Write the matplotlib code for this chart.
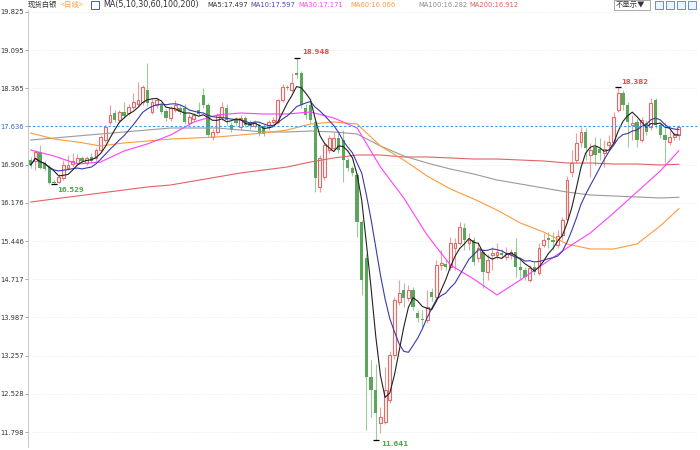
import matplotlib
matplotlib.use('Agg')
import matplotlib.pyplot as plt
from matplotlib.patches import Rectangle
import numpy as np
import pandas as pd

plt.rcParams['font.family'] = ['Noto Sans CJK SC', 'DejaVu Sans']

# daily OHLC
opens = [16.99, 16.97, 17.15, 16.94, 16.86, 16.58, 16.58, 16.65, 16.84, 16.92,
         16.94, 17.03, 16.94, 17.05, 17.03, 17.18, 17.38, 17.72, 17.89, 17.76,
         17.91, 17.89, 18.01, 18.06, 18.10, 18.33, 17.91, 18.04, 18.04, 17.93,
         17.79, 17.95, 17.99, 17.99, 17.70, 17.78, 17.95, 18.23, 18.04, 17.43,
         17.53, 17.81, 17.99, 17.66, 17.76, 17.62, 17.79, 17.72, 17.64, 17.66,
         17.64, 17.62, 17.72, 17.72, 18.14, 18.39, 18.33, 18.66, 18.66, 17.99,
         18.04, 17.72, 16.48, 16.67, 17.18, 17.22, 17.41, 17.38, 16.99, 16.84,
         16.71, 15.81, 15.12, 12.85, 12.60, 11.97, 11.99, 12.41, 13.27, 14.28,
         14.51, 14.36, 14.51, 14.07, 13.96, 13.94, 14.47, 14.38, 14.99, 15.00,
         14.95, 15.32, 15.41, 15.70, 15.41, 15.47, 15.12, 15.24, 14.85, 15.18,
         15.18, 15.22, 15.14, 15.18, 15.24, 14.95, 14.89, 14.70, 14.95, 14.84,
         15.37, 15.50, 15.47, 15.37, 15.56, 15.87, 16.76, 16.99, 17.34, 17.53,
         17.09, 17.24, 17.20, 17.12, 17.28, 17.34, 17.95, 18.27, 18.04, 17.66,
         17.72, 17.38, 17.70, 17.62, 18.14, 17.66, 17.47, 17.33, 17.43, 17.47]
highs = [17.05, 17.19, 17.28, 16.98, 16.90, 16.62, 16.72, 16.99, 17.09, 17.13,
         17.10, 17.08, 17.07, 17.13, 17.22, 17.47, 17.66, 18.04, 17.95, 17.95,
         18.10, 18.06, 18.27, 18.48, 18.43, 18.85, 18.16, 18.18, 18.08, 17.97,
         18.03, 18.14, 18.04, 18.06, 17.87, 17.89, 18.10, 18.37, 18.08, 17.58,
         17.89, 18.10, 18.06, 17.72, 17.81, 17.85, 17.83, 17.76, 17.76, 17.70,
         17.68, 17.76, 17.81, 18.16, 18.45, 18.43, 18.66, 18.948, 18.70, 18.06,
         18.10, 17.76, 17.09, 17.32, 17.47, 17.53, 17.51, 17.57, 17.03, 16.88,
         16.75, 15.85, 15.20, 13.17, 13.10, 12.28, 13.04, 13.35, 14.38, 14.70,
         14.65, 14.60, 14.57, 14.13, 14.13, 14.51, 14.55, 15.08, 15.28, 15.08,
         15.52, 15.50, 15.81, 15.79, 15.60, 15.52, 15.43, 15.30, 15.20, 15.33,
         15.41, 15.30, 15.33, 15.30, 15.50, 15.08, 14.95, 14.99, 15.04, 15.41,
         15.60, 15.62, 15.62, 15.66, 15.91, 16.69, 17.18, 17.51, 17.62, 17.60,
         17.32, 17.43, 17.41, 17.37, 17.47, 17.91, 18.382, 18.33, 18.10, 17.85,
         17.78, 17.81, 17.76, 18.18, 18.18, 17.70, 17.72, 17.57, 17.53, 17.66]
lows = [16.84, 16.80, 16.82, 16.78, 16.54, 16.529, 16.55, 16.61, 16.80, 16.86,
        16.90, 16.94, 16.90, 16.94, 16.98, 17.14, 17.34, 17.66, 17.72, 17.70,
        17.80, 17.85, 17.97, 18.02, 18.04, 18.02, 17.87, 17.98, 17.87, 17.74,
        17.74, 17.91, 17.87, 17.68, 17.66, 17.74, 17.83, 17.99, 17.43, 17.38,
        17.49, 17.76, 17.66, 17.53, 17.66, 17.57, 17.62, 17.58, 17.60, 17.45,
        17.45, 17.57, 17.68, 17.68, 18.10, 18.33, 18.29, 18.56, 17.99, 17.78,
        17.70, 16.38, 16.38, 16.61, 17.12, 17.18, 17.12, 16.57, 16.78, 16.69,
        15.52, 14.42, 11.84, 12.09, 11.641, 11.78, 11.95, 12.35, 13.20, 14.22,
        14.19, 14.30, 14.13, 13.90, 13.80, 13.88, 14.30, 14.30, 14.89, 14.89,
        14.89, 14.89, 15.37, 15.28, 15.28, 14.99, 15.04, 14.55, 14.70, 14.89,
        15.10, 15.12, 15.08, 15.10, 14.76, 14.70, 14.70, 14.66, 14.80, 14.80,
        15.33, 15.31, 15.28, 15.31, 15.47, 15.83, 16.67, 16.94, 17.24, 16.99,
        16.67, 16.90, 16.99, 16.86, 17.22, 17.30, 17.91, 17.95, 17.24, 17.37,
        17.24, 17.33, 17.47, 17.57, 17.60, 17.41, 16.94, 17.28, 17.37, 17.37]
closes = [16.90, 17.15, 16.84, 16.82, 16.56, 16.56, 16.67, 16.90, 16.90, 16.98,
          17.03, 16.98, 17.03, 16.98, 17.18, 17.43, 17.62, 17.85, 17.76, 17.91,
          17.84, 18.00, 18.10, 18.14, 18.39, 18.08, 18.10, 18.14, 17.91, 17.79,
          17.99, 18.04, 17.91, 17.72, 17.81, 17.85, 17.87, 18.04, 17.47, 17.53,
          17.85, 18.01, 17.76, 17.57, 17.70, 17.79, 17.66, 17.64, 17.70, 17.49,
          17.49, 17.72, 17.76, 18.14, 18.39, 18.37, 18.46, 18.62, 18.04, 17.85,
          17.76, 16.65, 17.03, 17.28, 17.41, 17.41, 17.18, 16.99, 16.84, 16.75,
          15.81, 14.70, 12.85, 12.60, 12.16, 12.09, 12.60, 13.27, 14.32, 14.45,
          14.36, 14.51, 14.19, 13.98, 13.94, 14.19, 14.38, 14.99, 15.03, 14.95,
          15.41, 15.41, 15.72, 15.47, 15.47, 15.04, 15.31, 14.85, 15.08, 15.22,
          15.24, 15.18, 15.22, 15.24, 14.95, 14.89, 14.76, 14.93, 14.85, 15.31,
          15.47, 15.47, 15.43, 15.54, 15.85, 16.61, 16.94, 17.32, 17.53, 17.22,
          17.18, 17.09, 17.12, 17.20, 17.34, 17.81, 18.27, 18.04, 17.72, 17.70,
          17.38, 17.76, 17.53, 18.08, 17.66, 17.47, 17.37, 17.43, 17.47, 17.62]

# longer moving averages, every 5 bars
ma_idx = [0, 5, 10, 15, 20, 25, 30, 35, 40, 45, 50, 55, 60, 65, 70,
          75, 80, 85, 90, 95, 100, 105, 110, 115, 120, 125, 130, 135, 139]
ma30 = [17.185, 17.071, 16.918, 16.956, 17.166, 17.300, 17.472, 17.720, 17.854, 17.892,
        17.873, 17.873, 17.911, 17.796, 17.605, 16.861, 16.269, 15.562, 14.989, 14.722,
        14.416, 14.703, 15.008, 15.314, 15.600, 15.982, 16.383, 16.784, 17.171]
ma60 = [17.510, 17.395, 17.338, 17.262, 17.319, 17.357, 17.395, 17.414, 17.434, 17.472,
        17.510, 17.567, 17.682, 17.720, 17.682, 17.262, 16.994, 16.689, 16.441, 16.250,
        16.039, 15.791, 15.619, 15.390, 15.295, 15.295, 15.390, 15.734, 16.066]
ma100 = [17.376, 17.414, 17.453, 17.491, 17.529, 17.567, 17.605, 17.605, 17.605, 17.567,
         17.529, 17.529, 17.548, 17.529, 17.491, 17.262, 17.071, 16.937, 16.822, 16.727,
         16.612, 16.536, 16.459, 16.383, 16.326, 16.307, 16.288, 16.269, 16.282]
ma200 = [16.192, 16.250, 16.307, 16.364, 16.421, 16.479, 16.517, 16.593, 16.670, 16.746,
         16.803, 16.861, 16.956, 17.033, 17.090, 17.090, 17.052, 17.052, 17.033, 17.013,
         17.013, 16.994, 16.975, 16.937, 16.937, 16.918, 16.918, 16.899, 16.912]

yticks = [19.825, 19.095, 18.365, 17.636, 16.906, 16.176,
          15.446, 14.717, 13.987, 13.257, 12.528, 11.798]
last_line = 17.636

o = np.array(opens)
h = np.array(highs)
l = np.array(lows)
c = np.array(closes)
x = np.arange(len(c))
up = c >= o

ma5 = pd.Series(c).rolling(5, min_periods=1).mean()
ma10 = pd.Series(c).rolling(10, min_periods=1).mean()

fig = plt.figure(figsize=(7, 4.5), dpi=100)
ax = fig.add_axes([28 / 700, 3 / 450, 670 / 700, 437 / 450])

red = '#e46a6a'
green = '#5aa65a'

# wicks
ax.vlines(x[up], l[up], h[up], color='#ef9d9d', lw=0.8, zorder=1)
ax.vlines(x[~up], l[~up], h[~up], color='#98cc98', lw=0.8, zorder=1)

# bodies
body = np.maximum(np.abs(c - o), 0.02)
bottom = np.minimum(o, c)
ax.bar(x[up], body[up], bottom=bottom[up], width=0.62, facecolor='#fff6f6',
       edgecolor=red, linewidth=0.8, zorder=2)
ax.bar(x[~up], body[~up], bottom=bottom[~up], width=0.7, color=green,
       linewidth=0, zorder=2)

# moving averages
ax.plot(ma_idx, ma200, color='#e06464', lw=0.8, zorder=3)
ax.plot(ma_idx, ma100, color='#9a9a9a', lw=0.8, zorder=3)
ax.plot(ma_idx, ma60, color='#ff9a3c', lw=0.8, zorder=3)
ax.plot(ma_idx, ma30, color='#ff40ff', lw=0.8, zorder=3)
ax.plot(x, ma10, color='#3a3aa8', lw=0.8, zorder=4)
ax.plot(x, ma5, color='#222222', lw=0.8, zorder=5)

ax.axhline(last_line, color='#3399ff', lw=0.8, ls=(0, (2, 2)), zorder=6)

# highs / lows
imax1 = int(np.argmax(h[:100]))
imax2 = 100 + int(np.argmax(h[100:]))
imin1 = int(np.argmin(l[:40]))
imin2 = int(np.argmin(l))
for i, val, dx, dy, col in [(imax1, h[imax1], 6, 6, '#e05555'),
                            (imax2, h[imax2], 3, 5, '#e05555'),
                            (imin1, l[imin1], 3, -6, '#55a855'),
                            (imin2, l[imin2], 5, -4, '#55a855')]:
    ax.plot(i, val, marker='_', ms=5, mew=0.9, color='black', zorder=7)
    ax.annotate('%.3f' % val, (i, val), xytext=(dx, dy), textcoords='offset pixels',
                ha='left', va='center', fontsize=5, fontweight='bold', color=col,
                family='DejaVu Sans')

ax.set_xlim(-0.58, 143.1)
ax.set_ylim(11.513, 19.859)
ax.set_yticks(yticks)
ax.set_yticklabels(['%.3f' % t for t in yticks], fontsize=4.9, color='#333333',
                   family='DejaVu Sans')
for lab, t in zip(ax.get_yticklabels(), yticks):
    if t == last_line:
        lab.set_color('#3366cc')
ax.tick_params(axis='y', length=2, width=0.6, color='#999999', pad=1)
ax.set_xticks([])
for s in ['top', 'right', 'bottom']:
    ax.spines[s].set_visible(False)
ax.spines['left'].set_color('#c8c8c8')
ax.spines['left'].set_linewidth(0.7)
ax.grid(axis='y', color='#eeeeee', lw=0.6, ls=(0, (2, 2)))
ax.set_axisbelow(True)

# header line
ty = 1 - 5 / 450
fig.text(28 / 700, ty, '现货白银', fontsize=5.3, color='#333333', va='center')
fig.text(61 / 700, ty, '<日线>', fontsize=5.3, color='#ff9933', va='center')
fig.patches.append(Rectangle((91 / 700, 1 - 9 / 450), 8 / 700, 8 / 450, transform=fig.transFigure,
                             fill=False, edgecolor='#3b5bcc', lw=0.7))
fig.text(103 / 700, ty, 'MA(5,10,30,60,100,200)', fontsize=5.8, color='#333333', va='center',
         family='DejaVu Sans')
for xx, txt, col in [(207, 'MA5:17.497', '#333333'), (250, 'MA10:17.597', '#4848a8'),
                     (298, 'MA30:17.171', '#ff44ff'), (350, 'MA60:16.066', '#ff9a3c'),
                     (418, 'MA100:16.282', '#8c8c8c'), (469, 'MA200:16.912', '#e06060')]:
    fig.text(xx / 700, ty, txt, fontsize=4.9, color=col, va='center', family='DejaVu Sans')

# buttons on the right
fig.patches.append(Rectangle((614 / 700, 1 - 10 / 450), 36 / 700, 10 / 450, transform=fig.transFigure,
                             facecolor='white', edgecolor='#999999', lw=0.6))
fig.text(616 / 700, ty, '不显示▼', fontsize=5.3, color='#333333', va='center')
for xx in [655, 666, 677, 688]:
    fig.patches.append(Rectangle((xx / 700, 1 - 9 / 450), 8 / 700, 8 / 450, transform=fig.transFigure,
                                 facecolor='#eef3ff', edgecolor='#4a7bd8', lw=0.6))

fig.savefig('out.png', dpi=100)
